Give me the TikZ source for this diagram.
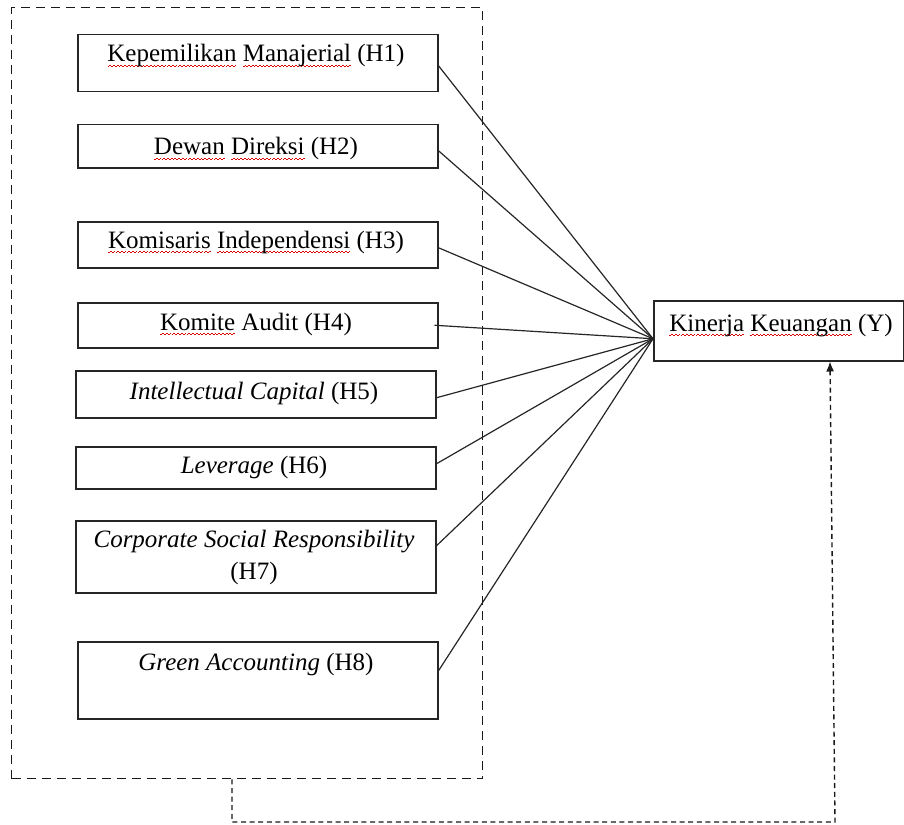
\documentclass[tikz,border=0pt]{standalone}
\usepackage{fontspec}
\setmainfont{Liberation Serif}
\usetikzlibrary{arrows.meta}
\newcommand\lblfont{\fontsize{12.5}{16}\selectfont}
% red spell-check wave under a word
\newcommand\sqw[1]{\setbox0\hbox{#1}\rlap{\hbox to\wd0{\color{red!85!black}\xleaders\hbox{\rule[-2.7pt]{0.9pt}{0.5pt}\rule[-2.0pt]{0.9pt}{0.5pt}}\hfill}}\box0\relax}
\tikzset{
  box/.style={draw=black!85, line width=0.75pt, minimum width=180pt, anchor=north west, inner sep=0pt},
  lbl/.style={anchor=base, inner sep=0pt, font=\lblfont},
  link/.style={line width=0.6pt, draw=black!85},
  grpbox/.style={draw=black!90, line width=0.7pt, dash pattern=on 4.5pt off 3pt, anchor=north west, inner sep=0pt},
  feedback/.style={draw=black!90, line width=0.7pt, dash pattern=on 2.5pt off 1.8pt}
}
\begin{document}
\begin{tikzpicture}[x=0.5pt,y=-0.5pt]
\useasboundingbox (0,0) rectangle (904,824);
% group box
\node[grpbox, minimum width=235.5pt, minimum height=385.5pt] (grp) at (11,7) {};
% boxes
\node[box, minimum height=28.5pt] (h1) at (77,34) {};
\node[box, minimum height=21.5pt] (h2) at (77,124) {};
\node[box, minimum height=23pt] (h3) at (77,221) {};
\node[box, minimum height=22.5pt] (h4) at (77,302) {};
\node[box, minimum height=23.5pt] (h5) at (75,370) {};
\node[box, minimum height=21pt] (h6) at (75,446) {};
\node[box, minimum height=36pt] (h7) at (75,520) {};
\node[box, minimum height=38.5pt] (h8) at (77,641) {};
\node[box, minimum width=125pt, minimum height=30pt] (k) at (653,300) {};
% labels
\node[lbl] (l1) at (256,62) {\sqw{Kepemilikan} \sqw{Manajerial} (H1)};
\node[lbl] (l2) at (256,155) {\sqw{Dewan} \sqw{Direksi} (H2)};
\node[lbl] (l3) at (256,248) {\sqw{Komisaris} \sqw{Independensi} (H3)};
\node[lbl] (l4) at (256,330) {\sqw{Komite} Audit (H4)};
\node[lbl] (l5) at (254,399) {\textit{Intellectual Capital} (H5)};
\node[lbl] (l6) at (254,473) {\textit{Leverage} (H6)};
\node[lbl] (l7a) at (254,547) {\textit{Corporate Social Responsibility}};
\node[lbl] (l7b) at (254,579) {(H7)};
\node[lbl] (l8) at (256,670) {\textit{Green Accounting} (H8)};
\node[lbl] (lk) at (781,331) {\sqw{Kinerja} \sqw{Keuangan} (Y)};
% links
\coordinate (kin) at ([yshift=-4pt]k.west);
\draw[link] ([yshift=-1.25pt]h1.east) -- (kin);
\draw[link] ([yshift=-2.25pt]h2.east) -- (kin);
\draw[link] ([yshift=-1.5pt]h3.east) -- (kin);
\draw[link] ([xshift=-2pt]h4.east) -- (kin);
\draw[link] ([yshift=-1.75pt]h5.east) -- (kin);
\draw[link] ([yshift=2pt]h6.east) -- (kin);
\draw[link] ([yshift=5.5pt]h7.east) -- (kin);
\draw[link] ([yshift=4.75pt]h8.east) -- (kin);
% feedback
\coordinate (c1) at (232,822);
\coordinate (c2) at (835,822);
\coordinate (c3) at (830,362);
\draw[feedback, -{Latex[length=5pt,width=4pt]}] (grp.south -| c1) -- (c1) -- (c2) -- (k.south -| c3);
\end{tikzpicture}
\end{document}
